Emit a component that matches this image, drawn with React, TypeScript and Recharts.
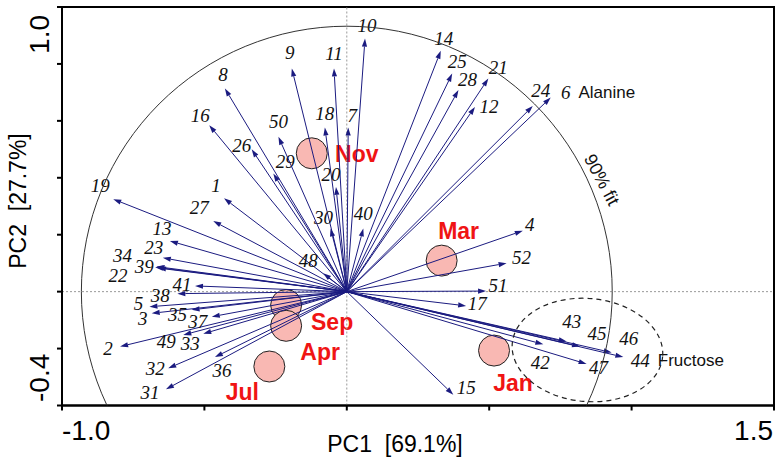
import React from 'react';
import { ComposedChart, XAxis, YAxis, ReferenceLine, ReferenceDot, ReferenceArea } from 'recharts';

// ---- variable loadings (arrow tips) ----
const VAR_IDS = ['1','2','3','4','5','6','7','8','9','10','11','12','13','14','15','16','17','18','19','20','21','22','23','24','25','26','27','28','29','30','31','32','33','34','35','36','37','38','39','40','41','42','43','44','45','46','47','48','49','50','51','52'];
const VAR_PC1 = [-0.431,-0.796,-0.685,0.618,-0.693,0.716,0.005,-0.428,-0.193,0.064,-0.045,0.450,-0.621,0.330,0.374,-0.483,0.419,-0.077,-0.820,-0.038,0.497,-0.663,-0.646,0.653,0.370,-0.334,-0.469,0.392,-0.258,-0.057,-0.635,-0.627,-0.504,-0.668,-0.545,-0.463,-0.474,-0.595,-0.673,0.058,-0.533,0.690,0.772,0.971,0.819,0.930,0.842,-0.083,-0.574,-0.240,0.489,0.561];
const VAR_PC2 = [0.328,-0.193,-0.076,0.214,-0.053,0.682,0.577,0.714,0.784,0.889,0.784,0.649,0.178,0.846,-0.362,0.585,-0.050,0.577,0.325,0.368,0.749,0.083,0.119,0.652,0.766,0.500,0.248,0.708,0.415,0.222,-0.343,-0.269,-0.148,0.088,-0.064,-0.230,-0.088,-0.007,0.086,0.222,0.020,-0.185,-0.175,-0.230,-0.193,-0.214,-0.254,0.065,-0.152,0.544,0.002,0.100];
const VAR_NAMES: Record<string, string> = { '6': 'Alanine', '44': 'Fructose' };

// label placement relative to arrow tip (px)
const LABEL_DX = [-8,-12,-9,7,-11,15,4,-2,-2,2,0,14,-8,3,13,-9,11,0,-13,-5,10,-40,-9,8,5,-10,-14,9,12,-7,-16,-13,-13,-34,-14,7,-14,-17,-11,0,-13,-3,5,17,17,17,12,-15,-17,0,12,15];
const LABEL_DY = [-13,2,5,-6,-3,-5,-12,-14,-16,-13,-15,0,-12,-12,-7,-10,-2,-14,-14,-12,-11,7,-10,-16,-12,-4,-14,-11,-12,-11,3,0,10,-11,5,13,5,2,-1,-15,-1,18,-20,3,-13,-14,4,-13,7,-15,-6,-6];

// ---- sample scores (months) ----
const MONTHS = ['Nov','Mar','Jan','Sep','Apr','Jul'];
const MONTH_PC1 = [-0.123,0.333,0.517,-0.213,-0.213,-0.272];
const MONTH_PC2 = [0.486,0.109,-0.207,-0.047,-0.120,-0.263];
const MONTH_DX = [45,17,19,46,34,-27];
const MONTH_DY = [1,-30,32,17,26,25];

// ---- axes ----
const X_DOMAIN: [number, number] = [-1.0, 1.5];
const Y_DOMAIN: [number, number] = [-0.4, 1.0];
const X_TICKS = [-1.0,-0.5,0,0.5,1.0,1.5];
const Y_TICKS = [-0.4,-0.2,0,0.2,0.4,0.6,0.8,1.0];
const FIT_RADIUS = 0.932; // 90% fit circle
const ELLIPSE = { pc1: 0.845, pc2: -0.205, rx: 0.265, ry: 0.181 };

const W = 783, H = 467;
const MARGIN = { top: 7, right: 9, left: 0, bottom: 0 };
const Y_AXIS_W = 62, X_AXIS_H = 61.5;
const PX_PER_UNIT = (W - MARGIN.right - Y_AXIS_W) / (X_DOMAIN[1] - X_DOMAIN[0]);

const NAVY = '#1b1b80';
const SANS = '"Liberation Sans", Arial, sans-serif';
const SERIF = '"Liberation Serif", "Times New Roman", serif';

const XTick = (p: any) => {
  const v = p.payload.value;
  if (v !== X_DOMAIN[0] && v !== X_DOMAIN[1]) return <g />;
  return (
    <text x={p.x} y={p.y + 27} textAnchor={v === X_DOMAIN[0] ? 'start' : 'end'} fontSize={28} fontFamily={SANS} fill="#000">
      {v.toFixed(1)}
    </text>
  );
};

const YTick = (p: any) => {
  const v = p.payload.value;
  if (v !== Y_DOMAIN[0] && v !== Y_DOMAIN[1]) return <g />;
  const isTop = v === Y_DOMAIN[1];
  const x = p.x - 6;
  const y = isTop ? p.y + 6 : p.y - 3.5;
  return (
    <text x={x} y={y} transform={`rotate(-90 ${x} ${y})`} textAnchor={isTop ? 'end' : 'start'} fontSize={28} fontFamily={SANS} fill="#000">
      {v.toFixed(1)}
    </text>
  );
};

const renderArrow = (p: any, i: number) => {
  const x1 = Number(p.x1), y1 = Number(p.y1), x2 = Number(p.x2), y2 = Number(p.y2);
  const ang = Math.atan2(y2 - y1, x2 - x1);
  const L = 8, HW = 2.6;
  const bx = x2 - L * Math.cos(ang), by = y2 - L * Math.sin(ang);
  const px = -Math.sin(ang) * HW, py = Math.cos(ang) * HW;
  const id = VAR_IDS[i];
  const lx = x2 + LABEL_DX[i], ly = y2 + LABEL_DY[i];
  const name = VAR_NAMES[id];
  return (
    <g>
      <line x1={x1} y1={y1} x2={bx} y2={by} stroke={NAVY} strokeWidth={1} />
      <polygon points={`${x2},${y2} ${bx + px},${by + py} ${bx - px},${by - py}`} fill={NAVY} />
      <text x={lx} y={ly} textAnchor="middle" dominantBaseline="central" fontSize={19} fontStyle="italic" fontFamily={SERIF} fill="#111">{id}</text>
      {name ? (
        <text x={lx + id.length * 4.75 + 8} y={ly} dominantBaseline="central" fontSize={17} fontFamily={SANS} fill="#111">{name}</text>
      ) : null}
    </g>
  );
};

const renderMonth = (p: any, i: number) => (
  <g>
    <circle cx={p.cx} cy={p.cy} r={15.5} fill="#f9b8b3" stroke="#222" strokeWidth={1} />
    <text x={p.cx + MONTH_DX[i]} y={p.cy + MONTH_DY[i]} textAnchor="middle" dominantBaseline="central" fontSize={23} fontWeight="bold" fontFamily={SANS} fill="#f01414">{MONTHS[i]}</text>
  </g>
);

export default function App() {
  return (
    <div style={{ position: 'absolute', left: 0, top: 0, background: '#fff' }}>
      <ComposedChart width={W} height={H} margin={MARGIN}>
        <XAxis
          type="number" dataKey="pc1" domain={X_DOMAIN} ticks={X_TICKS} allowDataOverflow
          height={X_AXIS_H} tickSize={5} tickMargin={2} tick={XTick}
          axisLine={{ stroke: '#000', strokeWidth: 2 }} tickLine={{ stroke: '#000', strokeWidth: 2 }}
          label={{ content: (lp: any) => (
            <text x={lp.viewBox.x + 333} y={lp.viewBox.y + 46.5} textAnchor="middle" fontSize={23} fontFamily={SANS} fill="#000" xmlSpace="preserve">PC1  [69.1%]</text>
          ) }}
        />
        <YAxis
          type="number" dataKey="pc2" domain={Y_DOMAIN} ticks={Y_TICKS} allowDataOverflow
          width={Y_AXIS_W} tickSize={5} tickMargin={2} tick={YTick}
          axisLine={{ stroke: '#000', strokeWidth: 2 }} tickLine={{ stroke: '#000', strokeWidth: 2 }}
          label={{ content: (lp: any) => {
            const x = lp.viewBox.x + 26, y = lp.viewBox.y + 194;
            return <text x={x} y={y} transform={`rotate(-90 ${x} ${y})`} textAnchor="middle" fontSize={23} fontFamily={SANS} fill="#000" xmlSpace="preserve">PC2  [27.7%]</text>;
          } }}
        />
        <ReferenceArea x1={X_DOMAIN[0]} x2={X_DOMAIN[1]} y1={Y_DOMAIN[0]} y2={Y_DOMAIN[1]} fill="none" fillOpacity={0} stroke="#000" strokeWidth={2} />
        <ReferenceLine x={0} stroke="#999" strokeDasharray="2 2" />
        <ReferenceLine y={0} stroke="#999" strokeDasharray="2 2" />
        <ReferenceDot x={0} y={0} ifOverflow="hidden"
          shape={(p: any) => <circle cx={p.cx} cy={p.cy} r={FIT_RADIUS * PX_PER_UNIT} fill="none" stroke="#333" strokeWidth={1} clipPath={p.clipPath} />} />
        <ReferenceDot x={ELLIPSE.pc1} y={ELLIPSE.pc2}
          shape={(p: any) => <ellipse cx={p.cx} cy={p.cy} rx={ELLIPSE.rx * PX_PER_UNIT} ry={ELLIPSE.ry * PX_PER_UNIT} transform={`rotate(5 ${p.cx} ${p.cy})`} fill="none" stroke="#222" strokeWidth={1.2} strokeDasharray="5 4" />} />
        <ReferenceDot x={0.895} y={0.393}
          shape={(p: any) => <text x={p.cx} y={p.cy} transform={`rotate(62 ${p.cx} ${p.cy})`} textAnchor="middle" dominantBaseline="central" fontSize={18} fontFamily={SANS} fill="#111">90% fit</text>} />
        {MONTHS.map((m, i) => (
          <ReferenceDot key={m} {...({ zIndex: 300 } as any)} x={MONTH_PC1[i]} y={MONTH_PC2[i]} shape={(p: any) => renderMonth(p, i)} />
        ))}
        {VAR_IDS.map((id, i) => (
          <ReferenceLine key={id} {...({ zIndex: 450 } as any)} segment={[{ x: 0, y: 0 }, { x: VAR_PC1[i], y: VAR_PC2[i] }]} shape={(p: any) => renderArrow(p, i)} />
        ))}
      </ComposedChart>
    </div>
  );
}
